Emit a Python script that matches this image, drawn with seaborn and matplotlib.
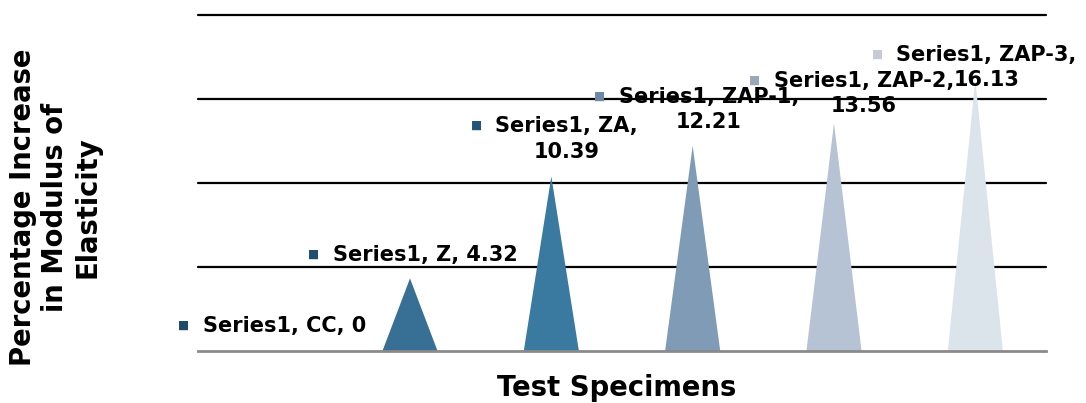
import matplotlib
matplotlib.use("Agg")
import matplotlib.pyplot as plt
import seaborn as sns
from matplotlib.patches import Polygon

# ---- data ----
series_name = "Series1"
categories = ["CC", "Z", "ZA", "ZAP-1", "ZAP-2", "ZAP-3"]
values = [0, 4.32, 10.39, 12.21, 13.56, 16.13]
y_ticks = [0, 5, 10, 15, 20]
x_title = "Test Specimens"
y_title = "Percentage Increase\nin Modulus of\nElasticity"

# ---- style ----
tri_colors = ["#2b5d80", "#386f94", "#3a7aa0", "#7f9bb6", "#b5c3d4", "#dbe3eb"]
key_colors = ["#1f4a68", "#1f4e6e", "#22557a", "#6f89a5", "#9aa7b7", "#c6cbd3"]
wrap = [False, False, True, True, True, True]
# label offsets (pixels) of the legend key relative to the apex
key_off = [(-85, 26), (-96, 24), (-75, 51), (-93, 50), (-79, 43), (-98, 26)]

sns.set_theme(style="white")
plt.rcParams["font.family"] = ["DejaVu Sans"]

fig = plt.figure(figsize=(10.86, 4.03), dpi=100)
ax = fig.add_axes([198 / 1086, 1 - 351 / 403, 848 / 1086, 336 / 403])

sns.barplot(x=categories, y=values, hue=categories, palette=tri_colors,
            width=0.39, legend=False, ax=ax, order=categories, hue_order=categories)

# replace bars by triangles
for p, col in zip(list(ax.patches), tri_colors):
    x0, w, h = p.get_x(), p.get_width(), p.get_height()
    p.set_visible(False)
    if h > 0:
        tri = Polygon([(x0, 0), (x0 + w / 2, h), (x0 + w, 0)], closed=True,
                      facecolor=col, edgecolor="none", zorder=3)
        ax.add_patch(tri)

ax.set_xlim(-0.5, len(categories) - 0.5)
ax.set_ylim(0, 20)
ax.set_yticks(y_ticks)
ax.set_xticks([])
ax.tick_params(axis="y", left=False, labelleft=False)
ax.set_xlabel("")
ax.set_ylabel("")
for s in ["top", "left", "right"]:
    ax.spines[s].set_visible(False)
ax.spines["bottom"].set_color("#8a8a8a")
ax.spines["bottom"].set_linewidth(2.0)
ax.spines["bottom"].set_zorder(4)

for yv in y_ticks[1:]:
    ax.axhline(yv, color="black", lw=1.6, zorder=1, clip_on=False)

# data labels with legend keys
for i, (cat, val) in enumerate(zip(categories, values)):
    dx, dy = key_off[i]
    ax.annotate("\u25A0", xy=(i, val), xytext=(dx, dy), textcoords="offset pixels",
                ha="center", va="center", color=key_colors[i], fontsize=8.5,
                annotation_clip=False, zorder=5)
    sep = ",\n" if wrap[i] else ", "
    label = f"{series_name}, {cat}{sep}{val:g}"
    ax.annotate(label, xy=(i, val), xytext=(dx + 19, dy + 9), textcoords="offset pixels",
                ha="left", va="top", multialignment="center", fontsize=15,
                fontweight="bold", color="black", linespacing=1.32,
                annotation_clip=False, zorder=6)

fig.text(617 / 1086, 1 - 388 / 403, x_title, ha="center", va="center",
         fontsize=19.8, fontweight="bold", color="black")
fig.text(55 / 1086, 1 - 207 / 403, y_title, ha="center", va="center", rotation=90,
         multialignment="center", fontsize=19.8, fontweight="bold", color="black",
         linespacing=1.2)

fig.savefig("out.png", dpi=100)
